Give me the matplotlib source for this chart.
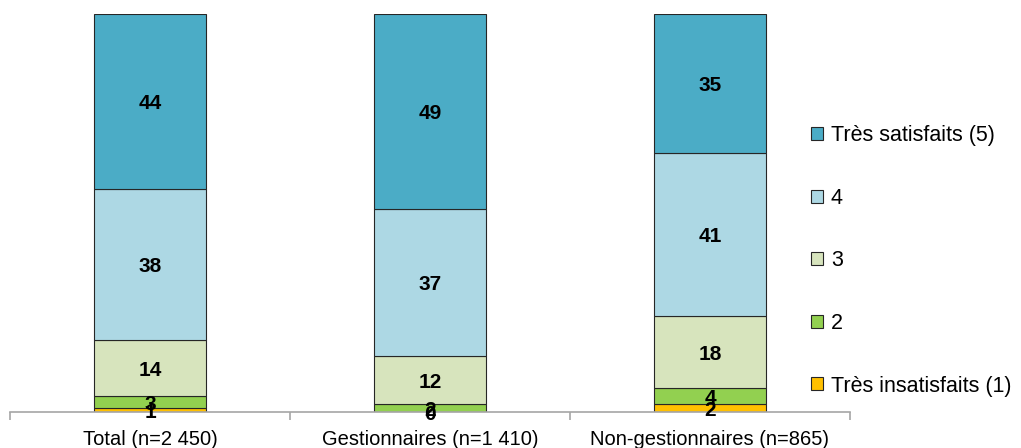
import matplotlib
matplotlib.use("Agg")
import matplotlib.pyplot as plt
import numpy as np

plt.rcParams['font.family'] = ['Liberation Sans', 'DejaVu Sans']

categories = ["Total (n=2 450)", "Gestionnaires (n=1 410)", "Non-gestionnaires (n=865)"]
series_labels = ["Très insatisfaits (1)", "2", "3", "4", "Très satisfaits (5)"]
very_unsatisfied = [1, 0, 2]
level_2 = [3, 2, 4]
level_3 = [14, 12, 18]
level_4 = [38, 37, 41]
very_satisfied = [44, 49, 35]
colors = ["#FFC000", "#92D050", "#D7E4BD", "#ADD8E4", "#4BACC6"]

series = [very_unsatisfied, level_2, level_3, level_4, very_satisfied]

fig = plt.figure(figsize=(10.21, 4.48), dpi=100)
W, H = 1021, 448
ax = fig.add_axes([10 / W, 1 - 412 / H, 840 / W, 398 / H])

x = np.arange(len(categories))
bottom = np.zeros(len(categories))
handles = []
for vals, lab, col in zip(series, series_labels, colors):
    vals = np.array(vals, dtype=float)
    bars = ax.bar(x, vals, width=0.4, bottom=bottom, color=col,
                  edgecolor="#262626", linewidth=0.8, label=lab)
    handles.append(bars)
    for xi, b, v in zip(x, bottom, vals):
        ax.text(xi, b + v / 2, f"{int(v)}", ha="center", va="center_baseline",
                fontsize=15, fontweight="bold", color="black")
    bottom += vals

ax.set_xlim(-0.5, len(categories) - 0.5)
ax.set_ylim(0, 100)
for s in ["top", "right", "left"]:
    ax.spines[s].set_visible(False)
ax.spines["bottom"].set_color("#a6a6a6")
ax.spines["bottom"].set_linewidth(1.2)
ax.set_yticks([])
ax.set_xticks(x)
ax.set_xticklabels(categories, fontsize=14.5)
ax.tick_params(axis="x", length=0, pad=13)
ax.set_xticks(np.arange(-0.5, len(categories)), minor=True)
ax.tick_params(axis="x", which="minor", length=6, color="#a6a6a6", width=1.2)

leg = fig.legend(handles[::-1], series_labels[::-1], loc="upper left",
                 bbox_to_anchor=(792 / W, 1 - 106 / H), frameon=False,
                 fontsize=15.5, handlelength=0.55, handleheight=0.55,
                 handletextpad=0.35, labelspacing=1.93)

fig.savefig("out.png", dpi=100)
